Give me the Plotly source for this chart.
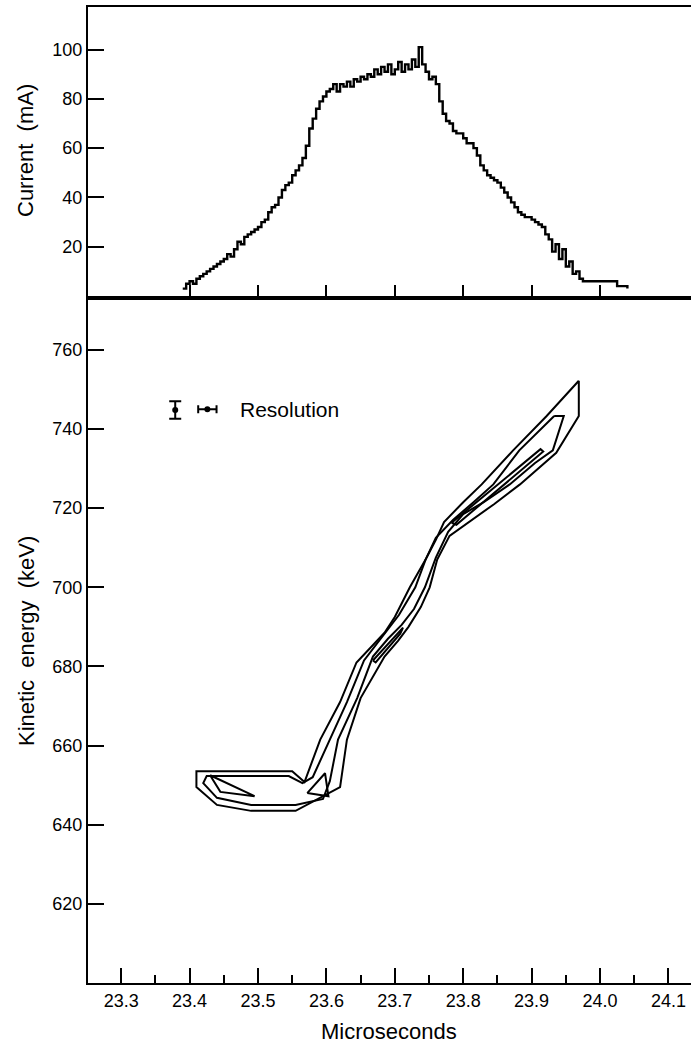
import plotly.graph_objects as go

# ---------------- data ----------------
# Top panel: beam current (mA) vs time (microseconds)
TIME_US = [23.390, 23.395, 23.400, 23.405, 23.410, 23.415, 23.420, 23.425, 23.430, 23.435,
           23.440, 23.445, 23.450, 23.455, 23.460, 23.465, 23.470, 23.475, 23.480, 23.485,
           23.490, 23.495, 23.500, 23.505, 23.510, 23.515, 23.520, 23.525, 23.530, 23.535,
           23.540, 23.545, 23.550, 23.555, 23.560, 23.565, 23.570, 23.575, 23.580, 23.585,
           23.590, 23.595, 23.600, 23.605, 23.610, 23.615, 23.620, 23.625, 23.630, 23.635,
           23.640, 23.645, 23.650, 23.655, 23.660, 23.665, 23.670, 23.675, 23.680, 23.685,
           23.690, 23.695, 23.700, 23.705, 23.710, 23.715, 23.720, 23.725, 23.730, 23.735,
           23.740, 23.745, 23.750, 23.755, 23.760, 23.765, 23.770, 23.775, 23.780, 23.785,
           23.790, 23.795, 23.800, 23.805, 23.810, 23.815, 23.820, 23.825, 23.830, 23.835,
           23.840, 23.845, 23.850, 23.855, 23.860, 23.865, 23.870, 23.875, 23.880, 23.885,
           23.890, 23.895, 23.900, 23.905, 23.910, 23.915, 23.920, 23.925, 23.930, 23.935,
           23.940, 23.945, 23.950, 23.955, 23.960, 23.965, 23.970, 23.975, 23.980, 23.985,
           23.990, 23.995, 24.000, 24.005, 24.010, 24.015, 24.020, 24.025, 24.030, 24.035,
           24.040]
CURRENT_MA = [3, 5, 6, 5, 7, 8, 9, 10, 11, 12,
              13, 14, 15, 17, 16, 19, 22, 21, 24, 25,
              26, 27, 28, 30, 31, 34, 36, 37, 40, 43,
              45, 46, 49, 51, 53, 56, 61, 68, 72, 76,
              79, 81, 83, 84, 86, 83, 86, 85, 87, 85,
              88, 87, 89, 88, 90, 89, 92, 90, 93, 91,
              94, 90, 92, 95, 91, 94, 92, 96, 93, 101,
              94, 91, 88, 89, 86, 79, 74, 71, 70, 67,
              66, 66, 64, 62, 62, 60, 57, 53, 51, 49,
              48, 47, 46, 44, 42, 40, 38, 36, 34, 33,
              32, 32, 31, 30, 29, 28, 25, 23, 18, 21,
              15, 19, 12, 14, 9, 10, 7, 6, 6, 6,
              6, 6, 6, 6, 6, 6, 6, 4, 4, 4,
              3]

# Bottom panel: contour lines (time in microseconds, energy in keV)
CONTOUR_A_T = [23.969, 23.922, 23.873, 23.827, 23.800, 23.772, 23.760, 23.745, 23.722, 23.700,
               23.685, 23.644, 23.620, 23.591, 23.568, 23.550, 23.410, 23.410, 23.440, 23.490,
               23.555, 23.620, 23.630, 23.650, 23.685, 23.705, 23.720, 23.738, 23.751, 23.762,
               23.780, 23.808, 23.845, 23.883, 23.936, 23.969, 23.969]
CONTOUR_A_E = [752.2, 743.3, 734.6, 726.0, 721.5, 716.5, 712.0, 707.0, 700.0, 692.5,
               688.5, 681.0, 671.0, 661.5, 650.8, 653.5, 653.5, 649.5, 645.0, 643.5,
               643.5, 649.5, 661.5, 672.0, 682.5, 686.5, 690.0, 695.0, 700.0, 707.0,
               713.0, 716.5, 721.0, 726.0, 734.0, 743.3, 752.2]

CONTOUR_B_T = [23.933, 23.947, 23.931, 23.905, 23.868, 23.830, 23.800, 23.778, 23.760, 23.744,
               23.728, 23.710, 23.690, 23.668, 23.645, 23.617, 23.605, 23.595, 23.555, 23.490,
               23.440, 23.420, 23.425, 23.545, 23.565, 23.580, 23.605, 23.630, 23.655, 23.690,
               23.706, 23.730, 23.745, 23.760, 23.785, 23.815, 23.844, 23.882, 23.933]
CONTOUR_B_E = [743.3, 743.3, 734.6, 731.4, 726.0, 721.5, 718.5, 714.0, 707.5, 700.0,
               694.5, 690.5, 687.0, 682.5, 672.0, 661.5, 651.0, 646.5, 645.0, 645.0,
               646.8, 650.5, 652.3, 652.3, 650.5, 652.0, 661.5, 671.0, 681.5, 689.5,
               693.0, 700.0, 707.0, 712.5, 717.0, 721.5, 726.0, 734.6, 743.3]

CONTOUR_C_T = [23.430, 23.495, 23.445, 23.430]
CONTOUR_C_E = [652.5, 647.2, 648.3, 652.5]

CONTOUR_D_T = [23.572, 23.598, 23.603, 23.572]
CONTOUR_D_E = [648.0, 653.0, 647.2, 648.0]

CONTOUR_E_T = [23.668, 23.712, 23.708, 23.672, 23.668]
CONTOUR_E_E = [681.5, 689.8, 688.3, 681.0, 681.5]

CONTOUR_F_T = [23.783, 23.913, 23.917, 23.790, 23.783]
CONTOUR_F_E = [716.3, 734.9, 734.3, 715.8, 716.3]

# Resolution markers
RES_V_T, RES_V_E, RES_V_ERR = [23.379], [744.8], [2.2]
RES_H_T, RES_H_E, RES_H_ERR = [23.426], [745.0], [0.0134]

X_TICKS = [23.3, 23.4, 23.5, 23.6, 23.7, 23.8, 23.9, 24.0, 24.1]
X_TICK_TEXT = ["23.3", "23.4", "23.5", "23.6", "23.7", "23.8", "23.9", "24.0", "24.1"]
X_TOP_TICKS = [23.4, 23.5, 23.6, 23.7, 23.8, 23.9, 24.0]
Y_E_TICKS = [620, 640, 660, 680, 700, 720, 740, 760]
Y_I_TICKS = [20, 40, 60, 80, 100]

# ---------------- figure ----------------
FONT = "Liberation Sans, Arial, Helvetica, sans-serif"
W, H = 691, 1043
fig = go.Figure()

fig.add_trace(go.Scatter(x=TIME_US, y=CURRENT_MA, mode="lines", line_shape="hv",
                         line=dict(color="black", width=2.4), xaxis="x2", yaxis="y2",
                         hoverinfo="skip"))

for ct, ce in [(CONTOUR_A_T, CONTOUR_A_E), (CONTOUR_B_T, CONTOUR_B_E),
               (CONTOUR_C_T, CONTOUR_C_E), (CONTOUR_D_T, CONTOUR_D_E),
               (CONTOUR_E_T, CONTOUR_E_E), (CONTOUR_F_T, CONTOUR_F_E)]:
    fig.add_trace(go.Scatter(x=ct, y=ce, mode="lines",
                             line=dict(color="black", width=2), xaxis="x", yaxis="y"))

fig.add_trace(go.Scatter(x=RES_V_T, y=RES_V_E, mode="markers",
                         marker=dict(color="black", size=6),
                         error_y=dict(type="data", array=RES_V_ERR, color="black",
                                      thickness=2, width=6),
                         xaxis="x", yaxis="y"))
fig.add_trace(go.Scatter(x=RES_H_T, y=RES_H_E, mode="markers",
                         marker=dict(color="black", size=6),
                         error_x=dict(type="data", array=RES_H_ERR, color="black",
                                      thickness=2, width=4),
                         xaxis="x", yaxis="y"))

XDOM = [88 / W, 1.0]
XRANGE = [23.2515, 24.133]
common_axis = dict(showline=True, linecolor="black", linewidth=2, showgrid=False,
                   zeroline=False, ticks="inside", tickcolor="black", tickwidth=1.5,
                   tickfont=dict(family=FONT, size=18, color="black"))

fig.update_layout(
    width=W, height=H, margin=dict(l=0, r=0, t=0, b=0),
    paper_bgcolor="white", plot_bgcolor="white", showlegend=False,
    font=dict(family=FONT, color="black"),
    xaxis=dict(domain=XDOM, range=XRANGE, anchor="y", tickmode="array",
               tickvals=X_TICKS, ticktext=X_TICK_TEXT, ticklen=15, mirror=True,
               minor=dict(ticks="inside", ticklen=8, tickwidth=1.5, tickcolor="black",
                          tick0=23.35, dtick=0.1, showgrid=False),
               **common_axis),
    yaxis=dict(domain=[1 - 983 / H, 1 - 300 / H], range=[600, 772.6], anchor="x",
               tickmode="array", tickvals=Y_E_TICKS, ticklen=16, mirror=False,
               **common_axis),
    xaxis2=dict(domain=XDOM, range=XRANGE, anchor="y2", tickmode="array",
                tickvals=X_TOP_TICKS, ticklen=11, showticklabels=False, mirror=True,
                **common_axis),
    yaxis2=dict(domain=[1 - 296 / H, 1 - 7 / H], range=[0, 117.3], anchor="x2",
                tickmode="array", tickvals=Y_I_TICKS, ticklen=16, mirror=False,
                **common_axis),
)

title_font = dict(family=FONT, size=22, color="black")
fig.add_annotation(text="Current  (mA)", textangle=-90, xref="paper", yref="paper",
                   x=26 / W, y=1 - 151 / H, xanchor="center", yanchor="middle",
                   showarrow=False, font=title_font)
fig.add_annotation(text="Kinetic  energy  (keV)", textangle=-90, xref="paper", yref="paper",
                   x=26 / W, y=1 - 641 / H, xanchor="center", yanchor="middle",
                   showarrow=False, font=title_font)
fig.add_annotation(text="Microseconds", xref="paper", yref="paper",
                   x=(XDOM[0] + XDOM[1]) / 2, y=1 - 1031 / H, xanchor="center",
                   yanchor="middle", showarrow=False, font=title_font)
fig.add_annotation(text="Resolution", xref="x", yref="y", x=23.471, y=745.0,
                   xanchor="left", yanchor="middle", showarrow=False,
                   font=dict(family=FONT, size=21, color="black"))

fig.write_html("out.html")
